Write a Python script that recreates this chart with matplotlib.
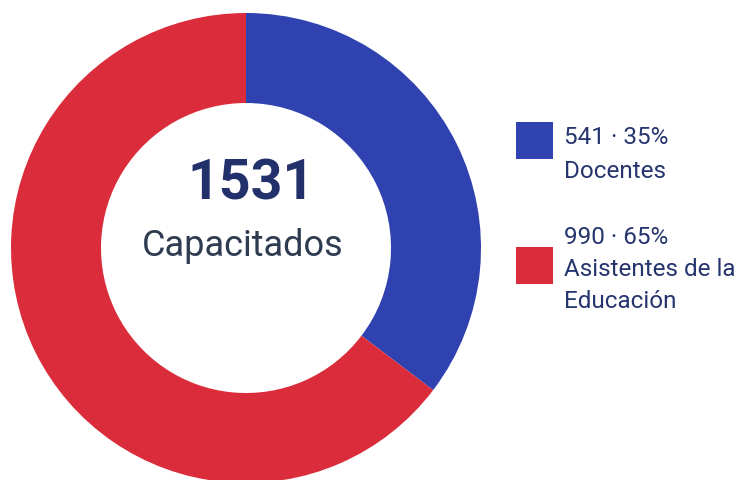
import matplotlib
matplotlib.use("Agg")
import matplotlib.pyplot as plt
from matplotlib.patches import Rectangle

categories = ["Docentes", "Asistentes de la\nEducación"]
values = [541, 990]
colors = ["#2F42B0", "#DA2C3A"]
center_value_label = "Capacitados"

total = sum(values)
plt.rcParams['font.family'] = ['Roboto', 'DejaVu Sans']

W, H = 749, 480
fig = plt.figure(figsize=(W / 100, H / 100), dpi=100)
ax = fig.add_axes([0, 0, 1, 1])

ax.pie(values, colors=colors, startangle=90, counterclock=False,
       center=(246, H - 248), radius=235,
       wedgeprops=dict(width=90, edgecolor="none", linewidth=0))
ax.set_xlim(0, W)
ax.set_ylim(0, H)
ax.set_aspect('equal')
ax.axis('off')

ax.text(251, H - 184, str(total), ha='center', va='center',
        fontsize=40, fontweight='bold', color="#22306B")
ax.text(243, H - 246, center_value_label, ha='center', va='center',
        fontsize=26, color="#2E3B50")

# legend
text_color = "#26356E"
box = 37
entries = [
    dict(box_top=122, lines_y=[138, 171]),
    dict(box_top=247, lines_y=[237, 270, 301]),
]
for cat, val, col, e in zip(categories, values, colors, entries):
    pct = round(val / total * 100)
    ax.add_patch(Rectangle((516, H - e['box_top'] - box), box, box,
                           facecolor=col, edgecolor='none'))
    lines = [f"{val} · {pct}%"] + cat.split("\n")
    for ln, y in zip(lines, e['lines_y']):
        ax.text(564, H - y, ln, ha='left', va='center', fontsize=17.5,
                color=text_color)

fig.savefig("out.png", dpi=100)
